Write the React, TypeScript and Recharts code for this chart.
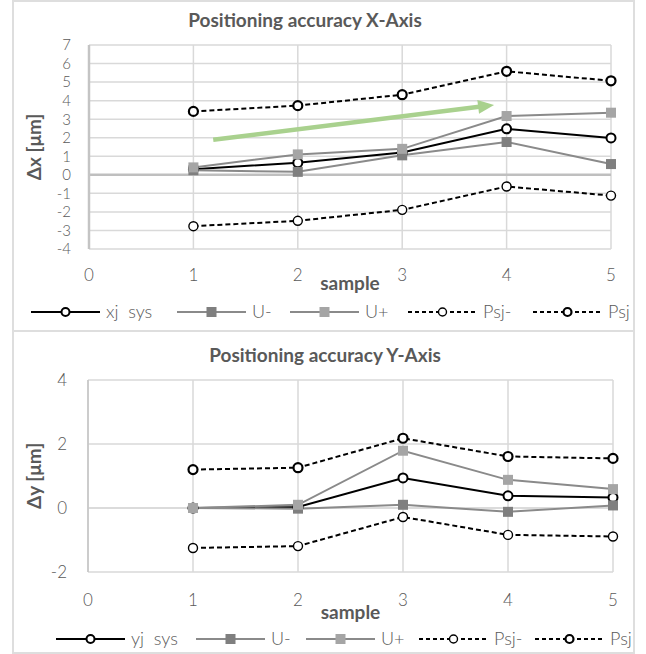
import React from 'react';
import { LineChart, Line, XAxis, YAxis, CartesianGrid, ReferenceLine, Legend } from 'recharts';

// ---------- data ----------
const samples = [1, 2, 3, 4, 5];
const xAxisTicks = [0, 1, 2, 3, 4, 5];

// X-Axis chart
const xjSys = [0.3, 0.65, 1.2, 2.48, 1.99];
const xUMinus = [0.25, 0.16, 1.05, 1.77, 0.58];
const xUPlus = [0.4, 1.1, 1.4, 3.17, 3.35];
const xPsjMinus = [-2.77, -2.48, -1.89, -0.63, -1.12];
const xPsj = [3.42, 3.73, 4.32, 5.58, 5.07];
const xValueTicks = [-4, -3, -2, -1, 0, 1, 2, 3, 4, 5, 6, 7];
const trendArrow = [
  { x: 1.19, y: 1.89 },
  { x: 3.88, y: 3.77 },
];

// Y-Axis chart
const yjSys = [0, 0.03, 0.94, 0.38, 0.33];
const yUMinus = [0, -0.02, 0.1, -0.12, 0.08];
const yUPlus = [0, 0.1, 1.79, 0.88, 0.59];
const yPsjMinus = [-1.25, -1.19, -0.28, -0.84, -0.89];
const yPsj = [1.2, 1.26, 2.18, 1.61, 1.55];
const yValueTicks = [-2, 0, 2, 4];

const xNames = ['xj  sys', 'U-', 'U+', 'Psj-', 'Psj'];
const yNames = ['yj  sys', 'U-', 'U+', 'Psj-', 'Psj'];

const buildRows = (a: number[], b: number[], c: number[], d: number[], e: number[]) =>
  samples.map((s, i) => ({ sample: s, sys: a[i], uMinus: b[i], uPlus: c[i], psjMinus: d[i], psj: e[i] }));

const xRows = buildRows(xjSys, xUMinus, xUPlus, xPsjMinus, xPsj);
const yRows = buildRows(yjSys, yUMinus, yUPlus, yPsjMinus, yPsj);

// ---------- styles ----------
const FONT = 'Lato, "Open Sans", sans-serif';
const TEXT = '#595959';
const GRID = '#D9D9D9';
const U_MINUS = '#7F7F7F';
const U_PLUS = '#A5A5A5';
const U_LINE = '#8A8A8A';
const GREEN = '#A9D18E';
const TICK_SIZE = 17;
const BOLD_SIZE = 19;

const squareDot = (fill: string, tag: string) => (props: any) => {
  const { cx, cy, index } = props;
  if (cx == null || cy == null) return <g key={`${tag}-${index}`} />;
  return <rect key={`${tag}-${index}`} x={cx - 5} y={cy - 5} width={10} height={10} fill={fill} />;
};

const ArrowShape = (p: any) => {
  const { x1, y1, x2, y2 } = p;
  const dx = x2 - x1;
  const dy = y2 - y1;
  const len = Math.hypot(dx, dy) || 1;
  const ux = dx / len;
  const uy = dy / len;
  const headL = 16;
  const headW = 7;
  const bx = x2 - ux * headL;
  const by = y2 - uy * headL;
  const px = -uy;
  const py = ux;
  return (
    <g>
      <line x1={x1} y1={y1} x2={bx + ux} y2={by + uy} stroke={GREEN} strokeWidth={4.5} />
      <polygon
        points={`${x2},${y2} ${bx + px * headW},${by + py * headW} ${bx - px * headW},${by - py * headW}`}
        fill={GREEN}
      />
    </g>
  );
};

type LegendLayout = { starts: number[]; names: string[] };

const LegendRow = ({ starts, names }: LegendLayout) => {
  const L = 69;
  const cy = 12;
  const kinds = ['sys', 'uMinus', 'uPlus', 'psjMinus', 'psj'];
  return (
    <svg width={646} height={24} style={{ display: 'block', overflow: 'visible' }}>
      {kinds.map((k, i) => {
        const x0 = starts[i];
        const mid = x0 + L / 2;
        let icon: React.ReactNode = null;
        if (k === 'sys') {
          icon = (
            <g>
              <line x1={x0} y1={cy} x2={x0 + L} y2={cy} stroke="#000" strokeWidth={2} />
              <circle cx={mid} cy={cy} r={4} fill="#fff" stroke="#000" strokeWidth={2} />
            </g>
          );
        } else if (k === 'uMinus' || k === 'uPlus') {
          icon = (
            <g>
              <line x1={x0} y1={cy} x2={x0 + L} y2={cy} stroke={U_LINE} strokeWidth={2} />
              <rect x={mid - 5} y={cy - 5} width={10} height={10} fill={k === 'uMinus' ? U_MINUS : U_PLUS} />
            </g>
          );
        } else {
          icon = (
            <g>
              <line x1={x0} y1={cy} x2={x0 + L} y2={cy} stroke="#000" strokeWidth={2} strokeDasharray="4 3" />
              <circle cx={mid} cy={cy} r={4} fill="#fff" stroke="#000" strokeWidth={k === 'psj' ? 2.2 : 1.4} />
            </g>
          );
        }
        return (
          <g key={k}>
            {icon}
            <text
              x={x0 + L + 6}
              y={cy}
              dy="0.36em"
              fontFamily={FONT}
              fontSize={18}
              fontWeight={300}
              fill={TEXT}
              style={{ whiteSpace: 'pre' }}
            >
              {names[i]}
            </text>
          </g>
        );
      })}
    </svg>
  );
};

type PanelProps = {
  rows: any[];
  names: string[];
  width: number;
  height: number;
  margin: { top: number; right: number; left: number; bottom: number };
  yWidth: number;
  domain: [number, number];
  ticks: number[];
  yTickFont: number;
  yLabel: string;
  yLabelOffset: number;
  yTickMargin: number;
  xTickMargin: number;
  xHeight: number;
  sampleOffset: number;
  legendTop: number;
  legendStarts: number[];
  axisStroke: number;
  zeroColor: string;
  zeroWidth: number;
  arrow?: boolean;
};

const Panel = (p: PanelProps) => (
  <LineChart width={p.width} height={p.height} data={p.rows} margin={p.margin}>
    <CartesianGrid stroke={GRID} strokeWidth={1.5} />
    <XAxis
      dataKey="sample"
      type="number"
      domain={[0, 5]}
      ticks={xAxisTicks}
      interval={0}
      axisLine={false}
      tickLine={false}
      tickSize={0}
      tickMargin={p.xTickMargin}
      height={p.xHeight}
      tick={{ fill: TEXT, fontSize: TICK_SIZE, fontFamily: FONT, fontWeight: 300 }}
      label={{
        value: 'sample',
        position: 'insideBottom',
        offset: p.sampleOffset,
        fill: TEXT,
        fontSize: BOLD_SIZE,
        fontWeight: 700,
        fontFamily: FONT,
      }}
    />
    <YAxis
      type="number"
      domain={p.domain}
      ticks={p.ticks}
      interval={0}
      width={p.yWidth}
      tickLine={false}
      tickSize={0}
      tickMargin={p.yTickMargin}
      axisLine={{ stroke: '#C4C4C4', strokeWidth: p.axisStroke }}
      tick={{ fill: TEXT, fontSize: p.yTickFont, fontFamily: FONT, fontWeight: 300 }}
      label={{
        value: p.yLabel,
        angle: -90,
        position: 'insideLeft',
        offset: p.yLabelOffset,
        fill: TEXT,
        fontSize: BOLD_SIZE,
        fontWeight: 700,
        fontFamily: FONT,
        style: { textAnchor: 'middle' },
      }}
    />
    <ReferenceLine y={0} stroke={p.zeroColor} strokeWidth={p.zeroWidth} />
    {p.arrow && <ReferenceLine segment={trendArrow} shape={ArrowShape} ifOverflow="visible" />}
    <Line
      dataKey="sys"
      name={p.names[0]}
      stroke="#000"
      strokeWidth={2}
      dot={{ r: 4.5, fill: '#fff', stroke: '#000', strokeWidth: 2 }}
      isAnimationActive={false}
    />
    <Line
      dataKey="uMinus"
      name={p.names[1]}
      stroke={U_LINE}
      strokeWidth={2}
      dot={squareDot(U_MINUS, 'um')}
      isAnimationActive={false}
    />
    <Line
      dataKey="uPlus"
      name={p.names[2]}
      stroke={U_LINE}
      strokeWidth={2}
      dot={squareDot(U_PLUS, 'up')}
      isAnimationActive={false}
    />
    <Line
      dataKey="psjMinus"
      name={p.names[3]}
      stroke="#000"
      strokeWidth={2}
      strokeDasharray="5 3"
      dot={{ r: 4.5, fill: '#fff', stroke: '#000', strokeWidth: 1.4, strokeDasharray: '' }}
      isAnimationActive={false}
    />
    <Line
      dataKey="psj"
      name={p.names[4]}
      stroke="#000"
      strokeWidth={2}
      strokeDasharray="5 3"
      dot={{ r: 4.5, fill: '#fff', stroke: '#000', strokeWidth: 2.2, strokeDasharray: '' }}
      isAnimationActive={false}
    />
    <Legend
      verticalAlign="middle"
      layout="horizontal"
      wrapperStyle={{ top: p.legendTop, left: 0, width: 646, height: 24 }}
      content={() => <LegendRow starts={p.legendStarts} names={p.names} />}
    />
  </LineChart>
);

const titleStyle = (center: number, top: number): React.CSSProperties => ({
  position: 'absolute',
  left: center - 200,
  width: 400,
  top,
  lineHeight: '22px',
  textAlign: 'center',
  fontFamily: FONT,
  fontWeight: 700,
  fontSize: BOLD_SIZE,
  color: TEXT,
});

export default function App() {
  return (
    <div style={{ position: 'absolute', left: 0, top: 0, width: 646, height: 654, background: '#fff' }}>
      <div
        style={{
          position: 'absolute',
          left: 12,
          top: 0,
          width: 623,
          height: 332,
          border: '2px solid #DEDEDE',
          boxSizing: 'border-box',
        }}
      />
      <div
        style={{
          position: 'absolute',
          left: 12,
          top: 330,
          width: 623,
          height: 324,
          border: '2px solid #DEDEDE',
          boxSizing: 'border-box',
        }}
      />
      <div style={titleStyle(305, 9)}>Positioning accuracy X-Axis</div>
      <div style={titleStyle(325, 344)}>Positioning accuracy Y-Axis</div>

      <div style={{ position: 'absolute', left: 0, top: 0 }}>
        <Panel
          rows={xRows}
          names={xNames}
          width={646}
          height={331}
          margin={{ top: 45, right: 35, left: 0, bottom: 37 }}
          yWidth={89}
          domain={[-4, 7]}
          ticks={xValueTicks}
          yTickFont={15}
          yLabel="Δx [μm]"
          yLabelOffset={34}
          yTickMargin={18}
          xTickMargin={20}
          xHeight={45}
          sampleOffset={4}
          legendTop={300}
          legendStarts={[31, 177, 290, 408, 533]}
          axisStroke={2.5}
          zeroColor="#BFBFBF"
          zeroWidth={2.5}
          arrow
        />
      </div>

      <div style={{ position: 'absolute', left: 0, top: 331 }}>
        <Panel
          rows={yRows}
          names={yNames}
          width={646}
          height={321}
          margin={{ top: 49, right: 33, left: 0, bottom: 30 }}
          yWidth={88}
          domain={[-2, 4]}
          ticks={yValueTicks}
          yTickFont={TICK_SIZE}
          yLabel="Δy [μm]"
          yLabelOffset={34}
          yTickMargin={21}
          xTickMargin={22}
          xHeight={50}
          sampleOffset={3}
          legendTop={296}
          legendStarts={[56, 196, 306, 419, 535]}
          axisStroke={1.5}
          zeroColor={GRID}
          zeroWidth={1.5}
        />
      </div>
    </div>
  );
}
